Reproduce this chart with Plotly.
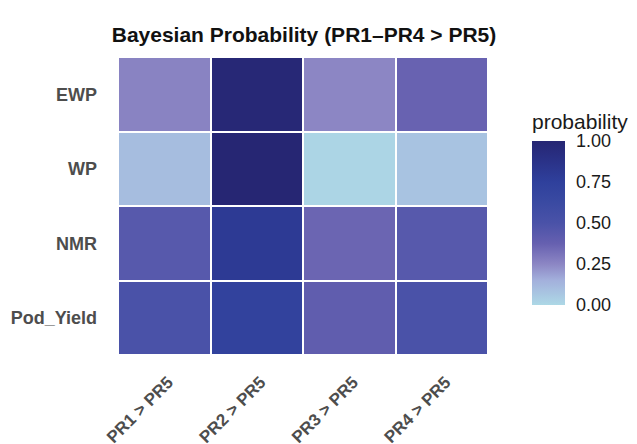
import plotly.graph_objects as go

# Comparisons (columns) and traits (rows, top to bottom)
comparisons = ["PR1 > PR5", "PR2 > PR5", "PR3 > PR5", "PR4 > PR5"]
traits = ["EWP", "WP", "NMR", "Pod_Yield"]

# Posterior probability that each treatment exceeds PR5
ewp = [0.26, 0.98, 0.25, 0.37]
wp = [0.10, 1.00, 0.01, 0.08]
nmr = [0.44, 0.80, 0.36, 0.44]
pod_yield = [0.50, 0.72, 0.40, 0.50]

z = [ewp, wp, nmr, pod_yield]

colorscale = [
    [0.0, "#add8e6"],
    [0.15, "#a3b0dc"],
    [0.25, "#8c86c4"],
    [0.375, "#6660b0"],
    [0.5, "#4a52a8"],
    [0.625, "#3a4aa2"],
    [0.75, "#2f409c"],
    [0.875, "#2a3288"],
    [1.0, "#262673"],
]

FONT = "Liberation Sans, Arial"

# plot area in pixels
L, R, T, B = 118, 149, 57, 89
W, H = 637, 444
plot_h = H - T - B

bar_top, bar_bot = 141, 305
bar_mid = (bar_top + bar_bot) / 2

fig = go.Figure(
    go.Heatmap(
        z=z,
        x=comparisons,
        y=traits,
        zmin=0,
        zmax=1,
        colorscale=colorscale,
        xgap=2,
        ygap=2,
        colorbar=dict(
            x=(532 - L) / (W - L - R),
            xanchor="left",
            y=(H - B - bar_mid) / plot_h,
            yanchor="middle",
            len=bar_bot - bar_top,
            lenmode="pixels",
            thickness=33,
            thicknessmode="pixels",
            outlinewidth=0,
            xpad=0,
            ypad=0,
            tickvals=[0, 0.25, 0.5, 0.75, 1.0],
            ticktext=["0.00", "0.25", "0.50", "0.75", "1.00"],
            ticks="outside",
            ticklen=8,
            tickcolor="rgba(0,0,0,0)",
            tickfont=dict(family=FONT, size=18, color="#1a1a1a"),
        ),
    )
)

fig.add_annotation(
    text="probability",
    xref="paper",
    yref="paper",
    x=(530 - L) / (W - L - R),
    xanchor="left",
    y=(H - B - 121) / plot_h,
    yanchor="middle",
    showarrow=False,
    font=dict(family=FONT, size=21, color="#1a1a1a"),
)

fig.update_layout(
    width=W,
    height=H,
    margin=dict(l=L, r=R, t=T, b=B, autoexpand=False),
    paper_bgcolor="white",
    plot_bgcolor="white",
    title=dict(
        text="<b>Bayesian Probability (PR1–PR4 > PR5)</b>",
        x=304 / W,
        xanchor="center",
        y=1 - 35 / H,
        yanchor="middle",
        font=dict(family=FONT, size=21, color="#111111"),
    ),
    xaxis=dict(
        tickangle=-45,
        tickfont=dict(family=FONT, size=17, color="#4d4d4d", weight="bold"),
        showgrid=False,
        zeroline=False,
        ticks="",
        ticklabelstandoff=13,
        ticklabelshift=4,
        automargin=False,
    ),
    yaxis=dict(
        autorange="reversed",
        tickfont=dict(family=FONT, size=18, color="#4d4d4d", weight="bold"),
        showgrid=False,
        zeroline=False,
        ticks="",
        ticklabelstandoff=20,
        automargin=False,
    ),
)

fig.write_html("out.html")
